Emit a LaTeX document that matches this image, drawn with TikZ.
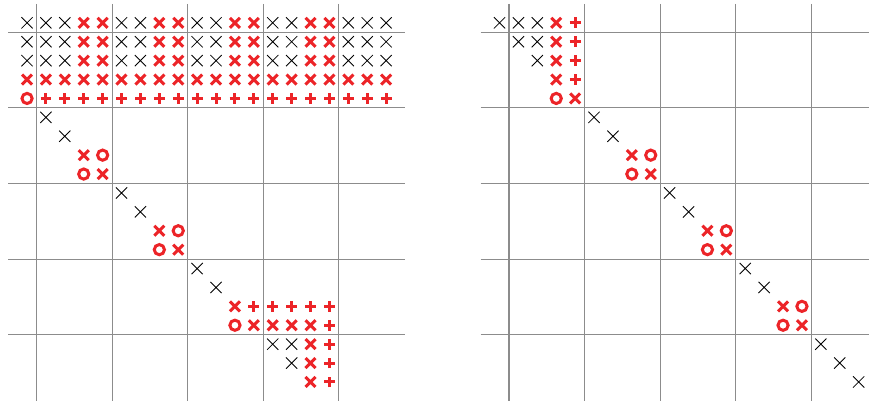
\documentclass[tikz,border=0pt]{standalone}
\definecolor{rd}{RGB}{236,36,40}
\definecolor{gl}{RGB}{140,140,140}
\tikzset{
  gridline/.style={draw=gl, line width=1.1pt},
  thinmark/.style={draw=black, line width=0.85pt},
  redmark/.style={draw=rd, line width=3pt},
  pics/bx/.style={code={\draw[thinmark] (-5.6pt,-5.6pt)--(5.6pt,5.6pt) (-5.6pt,5.6pt)--(5.6pt,-5.6pt);}},
  pics/rx/.style={code={\draw[redmark] (-5pt,-5pt)--(5pt,5pt) (-5pt,5pt)--(5pt,-5pt);}},
  pics/ro/.style={code={\draw[redmark] (0,0) circle (5.1pt);}},
  pics/rp/.style={code={\draw[redmark] (-5.4pt,0)--(5.4pt,0) (0,-5.4pt)--(0,5.4pt);}},
}
\begin{document}
\begin{tikzpicture}[x=18.9pt,y=-18.9pt]
\useasboundingbox (0,0) rectangle (45.979,21.270);
\clip (0,0) rectangle (45.979,21.270);
% ---------- left grid ----------
\begin{scope}[shift={(1.931,1.709)}]
  \foreach \k in {0,4,8,12,16} {
    \draw[gridline] (\k,-1.5) -- (\k,19.5);
    \draw[gridline] (-1.5,\k) -- (19.5,\k);
  }
  \foreach \r in {0,1,2} {
    \foreach \c in {0,1,2,5,6,9,10,13,14,17,18,19} \pic at (\c-0.5,\r-0.5) {bx};
    \foreach \c in {3,4,7,8,11,12,15,16} \pic at (\c-0.5,\r-0.5) {rx};
  }
  \foreach \c in {0,...,19} \pic at (\c-0.5,2.5) {rx};
  \foreach \c in {1,...,19} \pic at (\c-0.5,3.5) {rp};
  \foreach \c/\r in {1/5,2/6,5/9,6/10,9/13,10/14,13/17,14/17,14/18}
    \pic at (\c-0.5,\r-0.5) {bx};
  \foreach \c/\r in {3/7,4/8,7/11,8/12,11/15,12/16,13/16,14/16,15/16,15/17,15/18,15/19}
    \pic at (\c-0.5,\r-0.5) {rx};
  \foreach \c/\r in {0/4,4/7,3/8,8/11,7/12,11/16}
    \pic at (\c-0.5,\r-0.5) {ro};
  \foreach \c/\r in {12/15,13/15,14/15,15/15,16/15,16/16,16/17,16/18,16/19}
    \pic at (\c-0.5,\r-0.5) {rp};
\end{scope}
% ---------- right grid ----------
\begin{scope}[shift={(26.931,1.709)}]
  \foreach \k in {0,4,8,12,16} {
    \draw[gridline] (\k,-1.5) -- (\k,19.5);
    \draw[gridline] (-1.5,\k) -- (19.5,\k);
  }
  \foreach \c/\r in {0/0,1/0,2/0,1/1,2/1,2/2,5/5,6/6,9/9,10/10,13/13,14/14,17/17,18/18,19/19}
    \pic at (\c-0.5,\r-0.5) {bx};
  \foreach \c/\r in {3/0,3/1,3/2,3/3,4/4,7/7,8/8,11/11,12/12,15/15,16/16}
    \pic at (\c-0.5,\r-0.5) {rx};
  \foreach \c/\r in {4/0,4/1,4/2,4/3}
    \pic at (\c-0.5,\r-0.5) {rp};
  \foreach \c/\r in {3/4,8/7,7/8,12/11,11/12,16/15,15/16}
    \pic at (\c-0.5,\r-0.5) {ro};
\end{scope}
\end{tikzpicture}
\end{document}
